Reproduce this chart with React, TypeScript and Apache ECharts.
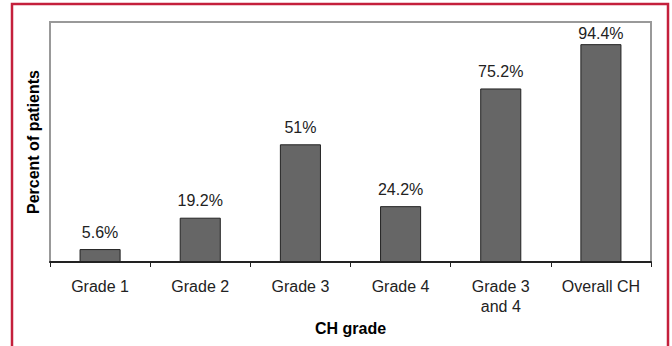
import React, { useEffect, useRef } from "react";
import * as echarts from "echarts";

const categories = ["Grade 1", "Grade 2", "Grade 3", "Grade 4", "Grade 3\nand 4", "Overall CH"];
const values = [5.6, 19.2, 51, 24.2, 75.2, 94.4];
const valueLabels = ["5.6%", "19.2%", "51%", "24.2%", "75.2%", "94.4%"];

const FONT = "'Liberation Sans', Arial, sans-serif";

export default function App() {
  const ref = useRef<HTMLDivElement>(null);
  useEffect(() => {
    if (!ref.current) return;
    const chart = echarts.init(ref.current, null, { renderer: "svg" });
    chart.setOption({
      animation: false,
      backgroundColor: "#ffffff",
      textStyle: { fontFamily: FONT },
      grid: {
        left: 50,
        top: 22,
        right: 21,
        bottom: 84,
        show: true,
        borderColor: "#999999",
        borderWidth: 2,
        backgroundColor: "transparent",
      },
      xAxis: {
        type: "category",
        data: categories,
        name: "CH grade",
        nameLocation: "middle",
        nameGap: 52,
        nameTextStyle: { fontFamily: FONT, fontSize: 16, fontWeight: "bold", color: "#000" },
        axisLine: { lineStyle: { color: "#222", width: 2 } },
        axisTick: { show: true, length: 5, lineStyle: { color: "#222", width: 1 } },
        axisLabel: { interval: 0, fontFamily: FONT, fontSize: 16, color: "#222", margin: 14, lineHeight: 20 },
      },
      yAxis: {
        type: "value",
        min: 0,
        max: 104,
        name: "Percent of patients",
        nameLocation: "middle",
        nameGap: 9,
        nameTextStyle: { fontFamily: FONT, fontSize: 16, fontWeight: "bold", color: "#000" },
        axisLine: { show: false },
        axisTick: { show: false },
        axisLabel: { show: false },
        splitLine: { show: false },
      },
      series: [
        {
          type: "bar",
          data: values.map((v, i) =>
            i === values.length - 1 ? { value: v, label: { distance: 3 } } : v
          ),
          barWidth: "41%",
          itemStyle: { color: "#666666", borderColor: "#222222", borderWidth: 1 },
          label: {
            show: true,
            position: "top",
            distance: 9,
            fontFamily: FONT,
            fontSize: 16,
            color: "#222",
            formatter: (p: any) => valueLabels[p.dataIndex],
          },
        },
      ],
      graphic: [
        {
          type: "rect",
          shape: { x: 12, y: 4, width: 656, height: 400 },
          style: { fill: "none", stroke: "#c4203c", lineWidth: 2.5 },
          silent: true,
        },
      ],
    });
    return () => chart.dispose();
  }, []);
  return (
    <div
      ref={ref}
      style={{ position: "fixed", left: 0, top: 0, width: 672, height: 346 }}
    />
  );
}
